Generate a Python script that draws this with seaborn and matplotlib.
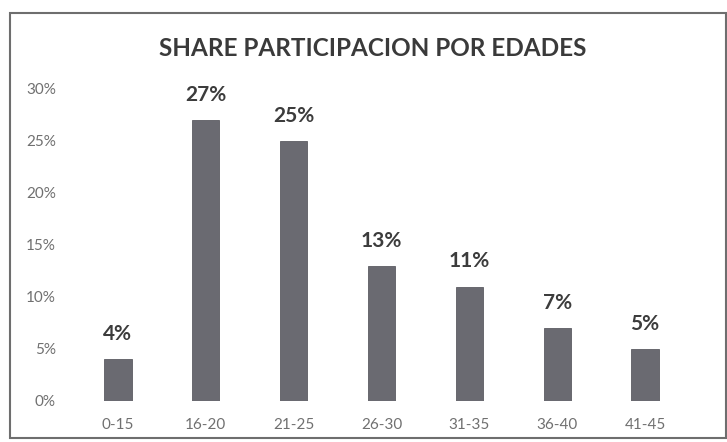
import matplotlib
matplotlib.use("Agg")
import matplotlib.pyplot as plt
import seaborn as sns
import pandas as pd
from matplotlib.patches import Rectangle
from matplotlib.ticker import PercentFormatter

categories = ["0-15", "16-20", "21-25", "26-30", "31-35", "36-40", "41-45"]
shares = [0.04, 0.27, 0.25, 0.13, 0.11, 0.07, 0.05]
yticks = [0.0, 0.05, 0.10, 0.15, 0.20, 0.25, 0.30]
title = "SHARE PARTICIPACION POR EDADES"

sns.set_style("white")
plt.rcParams["font.family"] = ["Lato", "DejaVu Sans"]

df = pd.DataFrame({"edad": categories, "share": shares})

fig = plt.figure(figsize=(7.27, 4.42), dpi=100)
ax = fig.add_axes([74 / 727, 1 - 401 / 442, 615 / 727, (401 - 89) / 442])

sns.barplot(data=df, x="edad", y="share", color="#6a6a71", width=0.31,
            saturation=1, ax=ax, edgecolor="#5c5c63", linewidth=0.6)

ax.set_ylim(0, 0.30)
ax.set_yticks(yticks)
ax.yaxis.set_major_formatter(PercentFormatter(1.0, decimals=0))
ax.set_xlabel("")
ax.set_ylabel("")
for s in ax.spines.values():
    s.set_visible(False)
ax.tick_params(axis="both", length=0, labelsize=11, colors="#707070")
ax.tick_params(axis="y", pad=13)
ax.tick_params(axis="x", pad=12)

for cont in ax.containers:
    ax.bar_label(cont, labels=[f"{v*100:.0f}%" for v in shares], padding=11,
                 fontsize=15, fontweight="bold", color="#3c3c3c", clip_on=False)

fig.text(0.513, 1 - 48 / 442, title, ha="center", va="center",
         fontsize=17.5, fontweight="bold", color="#3a3a3a")

fig.patches.append(Rectangle((10 / 727, 1 - 438 / 442), 716 / 727, (438 - 13) / 442,
                             transform=fig.transFigure, fill=False,
                             edgecolor="#6e6e6e", linewidth=1.5))

fig.savefig("out.png", dpi=100, facecolor="white")
